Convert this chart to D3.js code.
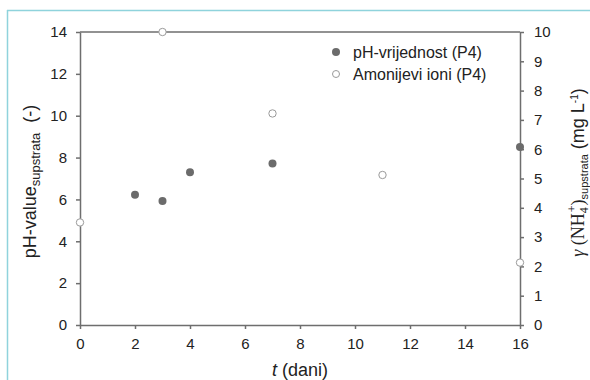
<!DOCTYPE html>
<html>
<head>
<meta charset="utf-8">
<script src="https://cdn.jsdelivr.net/npm/d3@7"></script>
<style>
    body { margin: 0; background: #fff; }
    svg { display: block; font-family: "Liberation Sans", Arial, sans-serif; }
    .axis path, .axis line { stroke: #6e6e6e; stroke-width: 1.5; }
    .axis text { fill: #222; font-size: 15px; font-family: "Liberation Sans", Arial, sans-serif; }
</style>
</head>
<body>
<script>

// Days of measurement
var phDays = [2, 3, 4, 7, 16];
var phValues = [6.22, 5.93, 7.3, 7.72, 8.5];

var ammoniumDays = [0, 3, 7, 11, 16];
var ammoniumValues = [3.5, 10.0, 7.22, 5.12, 2.13];

var xTicks = [0, 2, 4, 6, 8, 10, 12, 14, 16];
var leftTicks = [0, 2, 4, 6, 8, 10, 12, 14];
var rightTicks = [0, 1, 2, 3, 4, 5, 6, 7, 8, 9, 10];

var legendLabels = ["pH-vrijednost (P4)", "Amonijevi ioni (P4)"];

/*
 * Draws the double axis scatterplot
 */

window.onload = function() {

    var svgWidth = 590;
    var svgHeight = 380;

    var left = 80, top = 32, right = 520, bottom = 325;

    const svg = d3.select("body").append("svg")
        .attr("width", svgWidth)
        .attr("height", svgHeight);

    // light blue frame on top and left
    svg.append("line")
        .attr("x1", 7).attr("x2", svgWidth).attr("y1", 10.5).attr("y2", 10.5)
        .attr("stroke", "#8fd3dc").attr("stroke-width", 1.5);
    svg.append("line")
        .attr("x1", 7.5).attr("x2", 7.5).attr("y1", 10).attr("y2", svgHeight)
        .attr("stroke", "#8fd3dc").attr("stroke-width", 1.5);

    const xScale = d3.scaleLinear().domain([0, 16]).range([left, right]);
    const yLeft = d3.scaleLinear().domain([0, 14]).range([bottom, top]);
    const yRight = d3.scaleLinear().domain([0, 10]).range([bottom, top]);

    // top border of the plot area
    svg.append("line")
        .attr("x1", left).attr("x2", right).attr("y1", top).attr("y2", top)
        .attr("stroke", "#6e6e6e").attr("stroke-width", 1.5);

    svg.append("g")
        .attr("class", "axis")
        .attr("transform", `translate(0, ${bottom})`)
        .call(d3.axisBottom(xScale).tickValues(xTicks).tickSize(4).tickSizeOuter(0).tickPadding(9));

    svg.append("g")
        .attr("class", "axis")
        .attr("transform", `translate(${left}, 0)`)
        .call(d3.axisLeft(yLeft).tickValues(leftTicks).tickSize(4).tickSizeOuter(0).tickPadding(9));

    svg.append("g")
        .attr("class", "axis")
        .attr("transform", `translate(${right}, 0)`)
        .call(d3.axisRight(yRight).tickValues(rightTicks).tickSize(4).tickSizeOuter(0).tickPadding(10));

    // pH points
    svg.selectAll(".ph")
        .data(phDays)
        .enter()
        .append("circle")
        .attr("class", "ph")
        .attr("cx", function(d) { return xScale(d); })
        .attr("cy", function(d, i) { return yLeft(phValues[i]); })
        .attr("r", 4)
        .attr("fill", "#6b6b6b");

    // ammonium points
    svg.selectAll(".nh4")
        .data(ammoniumDays)
        .enter()
        .append("circle")
        .attr("class", "nh4")
        .attr("cx", function(d) { return xScale(d); })
        .attr("cy", function(d, i) { return yRight(ammoniumValues[i]); })
        .attr("r", 3.7)
        .attr("fill", "#fff")
        .attr("stroke", "#9a9a9a")
        .attr("stroke-width", 1);

    // legend
    var legend = svg.append("g").attr("transform", "translate(336, 52)");
    legend.append("circle").attr("cx", 0).attr("cy", 0).attr("r", 4).attr("fill", "#6b6b6b");
    legend.append("circle").attr("cx", 0).attr("cy", 22).attr("r", 3.5)
        .attr("fill", "#fff").attr("stroke", "#9a9a9a");
    legendLabels.forEach(function(label, i) {
        legend.append("text")
            .attr("x", 17).attr("y", i * 22 + 5.5)
            .attr("font-size", 16).attr("fill", "#222")
            .text(label);
    });

    // x label
    var xLabel = svg.append("text")
        .attr("x", (left + right) / 2)
        .attr("y", 376)
        .attr("text-anchor", "middle")
        .attr("font-size", 18)
        .attr("fill", "#222");
    xLabel.append("tspan").attr("font-style", "italic").text("t");
    xLabel.append("tspan").text(" (dani)");

    // left y label
    var yLabel = svg.append("text")
        .attr("transform", `translate(36, ${(top + bottom) / 2 + 3}) rotate(-90)`)
        .attr("text-anchor", "middle")
        .attr("font-size", 18)
        .attr("fill", "#222");
    yLabel.append("tspan").text("pH-value");
    yLabel.append("tspan").attr("font-size", 13).attr("dy", 4).text("supstrata");
    yLabel.append("tspan").attr("dy", -4).text("\u00a0\u00a0(-)");

    // right y label
    var rLabel = svg.append("text")
        .attr("transform", `translate(584, ${(top + bottom) / 2 - 6}) rotate(-90)`)
        .attr("text-anchor", "middle")
        .attr("font-size", 18)
        .attr("fill", "#222");
    rLabel.append("tspan").attr("font-family", "Liberation Serif, serif").attr("font-style", "italic").text("γ");
    rLabel.append("tspan").attr("font-family", "Liberation Serif, serif").text(" (NH");
    rLabel.append("tspan").attr("font-family", "Liberation Serif, serif").attr("font-size", 12).attr("dy", 4).text("4");
    rLabel.append("tspan").attr("font-family", "Liberation Serif, serif").attr("font-size", 12).attr("dy", -12).attr("dx", -5).text("+");
    rLabel.append("tspan").attr("font-family", "Liberation Serif, serif").attr("dy", 8).text(")");
    rLabel.append("tspan").attr("font-size", 11).attr("dy", 4).text("supstrata");
    rLabel.append("tspan").attr("dy", -4).text(" (mg L");
    rLabel.append("tspan").attr("font-size", 10).attr("dy", -6).text("-1");
    rLabel.append("tspan").attr("dy", 6).text(")");
};
</script>
</body>
</html>
